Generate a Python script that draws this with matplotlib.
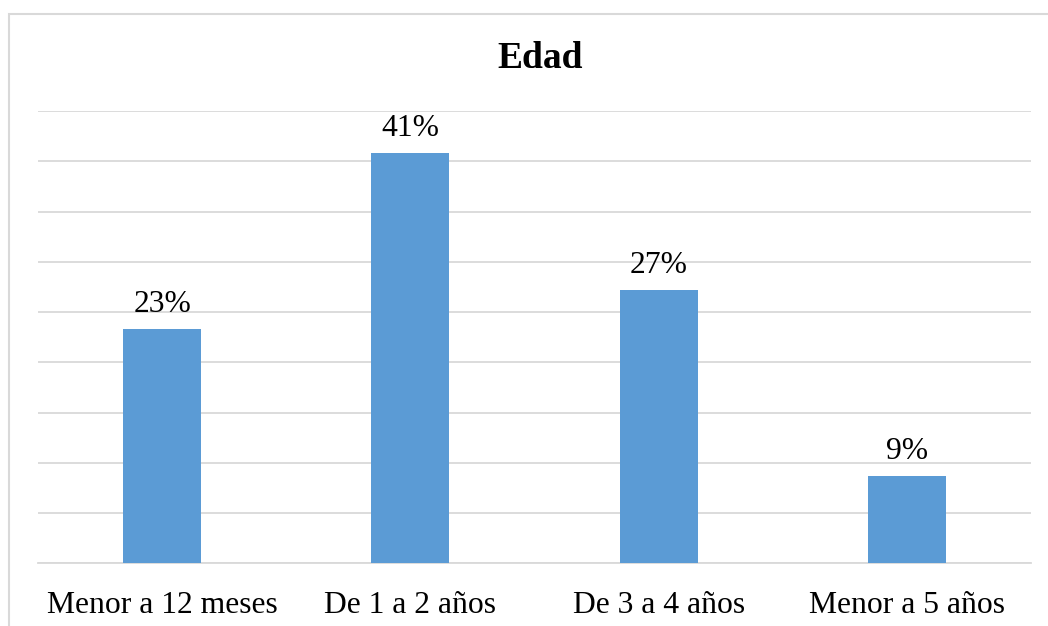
import numpy as np
import matplotlib
matplotlib.use("Agg")
from matplotlib import pyplot as plt
from matplotlib.patches import Rectangle

# data (percent)
categories = ["Menor a 12 meses", "De 1 a 2 años", "De 3 a 4 años", "Menor a 5 años"]
values = [23.3, 40.8, 27.2, 8.7]
labels = ["23%", "41%", "27%", "9%"]

plt.rcParams['font.family'] = ['Liberation Serif', 'DejaVu Serif']

fig = plt.figure(figsize=(10.48, 6.26), dpi=100)
ax = fig.add_axes([38/1048, 1 - 563.3/626, (1031-38)/1048, (563.3-111)/626])

x = np.arange(len(categories))
bars = ax.bar(x, values, width=0.314, color="#5B9BD5", zorder=3)

for b, lab in zip(bars, labels):
    ax.annotate(lab, (b.get_x() + b.get_width()/2, b.get_height()),
                xytext=(0, 7), textcoords="offset points",
                ha="center", va="bottom", fontsize=22.8, color="black")

ax.set_xlim(-0.5, len(categories) - 0.5)
ax.set_ylim(0, 45)
ax.set_yticks(np.arange(0, 46, 5))
ax.yaxis.grid(True, color="#D9D9D9", linewidth=1.3, zorder=0)
ax.set_yticklabels([])
ax.tick_params(axis="y", length=0)
ax.set_xticks(x)
ax.set_xticklabels(categories, fontsize=22.8)
ax.tick_params(axis="x", length=0, pad=20)
for s in ["top", "right", "left"]:
    ax.spines[s].set_visible(False)
ax.spines["bottom"].set_color("#D9D9D9")
ax.spines["bottom"].set_linewidth(1.3)

fig.text(540/1048, 1 - 58/626, "Edad", ha="center", va="center",
         fontsize=27, fontweight="bold")

# chart frame (runs off the right and bottom edge)
fig.patches.append(Rectangle((8.5/1048, -0.1), 1.0, 1.1 - 14/626,
                             transform=fig.transFigure, fill=False,
                             edgecolor="#D9D9D9", linewidth=1.5))

fig.savefig("out.png", dpi=100)
